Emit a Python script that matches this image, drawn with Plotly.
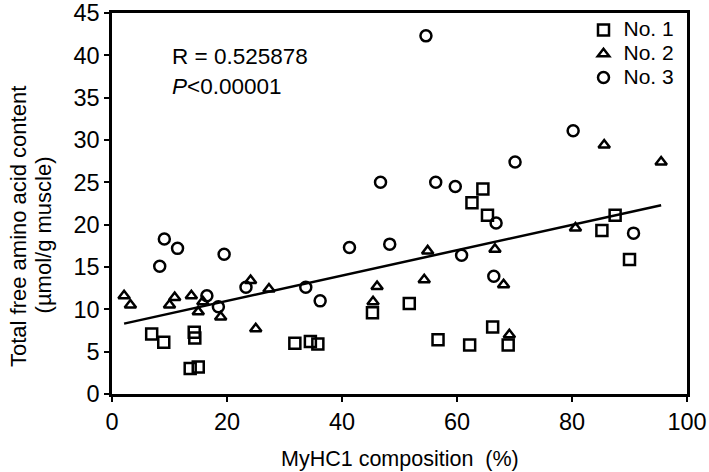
import numpy as np
import plotly.graph_objects as go

# MyHC1 composition (%) and total free amino acid content (umol/g muscle)
no1_x = [6.9, 9.0, 14.3, 14.4, 13.6, 15.0, 31.8, 34.5, 35.8, 45.3, 51.7,
         56.7, 62.2, 62.6, 64.5, 65.3, 66.2, 68.9, 85.2, 87.5, 90.0]
no1_y = [7.1, 6.1, 7.3, 6.6, 3.0, 3.2, 6.0, 6.2, 5.9, 9.6, 10.7,
         6.4, 5.8, 22.6, 24.2, 21.1, 7.9, 5.8, 19.3, 21.1, 15.9]

no2_x = [2.1, 3.2, 10.0, 10.9, 13.8, 15.8, 15.0, 18.9, 24.1, 25.0, 27.3,
         46.1, 45.4, 54.9, 54.3, 66.6, 68.1, 69.1, 80.6, 85.6, 95.5]
no2_y = [11.6, 10.5, 10.5, 11.4, 11.6, 10.9, 9.7, 9.1, 13.4, 7.7, 12.4,
         12.7, 10.9, 16.9, 13.5, 17.1, 12.9, 7.0, 19.6, 29.4, 27.4]

no3_x = [8.3, 9.1, 11.4, 16.5, 18.5, 19.5, 23.3, 33.7, 36.2, 41.3, 46.7,
         48.3, 54.6, 56.3, 59.7, 60.8, 66.4, 66.8, 70.1, 80.2, 90.7]
no3_y = [15.1, 18.3, 17.2, 11.6, 10.3, 16.5, 12.6, 12.6, 11.0, 17.3, 25.0,
         17.7, 42.3, 25.0, 24.5, 16.4, 13.9, 20.2, 27.4, 31.1, 19.0]

groups = ["No. 1", "No. 2", "No. 3"]
symbols = ["square-open", "triangle-up-open", "circle-open"]
sizes = [11, 10, 11]

all_x = np.array(no1_x + no2_x + no3_x)
all_y = np.array(no1_y + no2_y + no3_y)
slope, icpt = np.polyfit(all_x, all_y, 1)
fit_x = np.array([all_x.min(), all_x.max()])
fit_y = slope * fit_x + icpt

font = "Liberation Sans, Arial, Helvetica, sans-serif"

fig = go.Figure()
fig.add_trace(go.Scatter(x=fit_x, y=fit_y, mode="lines",
                         line=dict(color="black", width=2.5),
                         showlegend=False, hoverinfo="skip"))

for name, xs, ys, sym, sz in zip(groups, [no1_x, no2_x, no3_x],
                                 [no1_y, no2_y, no3_y], symbols, sizes):
    # legend row height follows the legend font size, text size set in the span
    label = "<span style='font-size:21px'>" + name + "</span>"
    fig.add_trace(go.Scatter(x=xs, y=ys, mode="markers", name=label,
                             marker=dict(symbol=sym, size=sz, color="black",
                                         line=dict(color="black", width=2.5))))

txt = dict(showarrow=False, xref="paper", yref="paper", yanchor="middle")
fig.add_annotation(x=0.101, y=0.885, text="R = 0.525878", xanchor="left",
                   font=dict(size=22.5, color="black"), **txt)
fig.add_annotation(x=0.101, y=0.806, text="<i>P</i><0.00001", xanchor="left",
                   font=dict(size=22.5, color="black"), **txt)
fig.add_annotation(x=-0.163, y=0.439, text="Total free amino acid content",
                   xanchor="center", textangle=-90,
                   font=dict(size=22, color="black"), **txt)
fig.add_annotation(x=-0.1195, y=0.417, text="(µmol/g muscle)",
                   xanchor="center", textangle=-90,
                   font=dict(size=22, color="black"), **txt)
fig.add_annotation(x=0.5, y=-0.1706, text="MyHC1 composition\u00a0 (%)",
                   xanchor="center", font=dict(size=21.5, color="black"), **txt)

fig.update_layout(
    width=709, height=472,
    margin=dict(l=112, r=22, t=13, b=78, autoexpand=False),
    paper_bgcolor="white", plot_bgcolor="white",
    font=dict(family=font, size=23.5, color="black"),
    legend=dict(x=0.82, y=1.0, xanchor="left", yanchor="top",
                bgcolor="rgba(0,0,0,0)", font=dict(size=16),
                tracegroupgap=0),
)
fig.update_xaxes(range=[0, 100], dtick=20, showgrid=False, zeroline=False,
                 showline=True, linecolor="black", linewidth=2.5, mirror=True,
                 ticks="outside", ticklen=5, tickwidth=2, tickcolor="black",
                 automargin=False)
fig.update_yaxes(range=[0, 45], dtick=5, showgrid=False, zeroline=False,
                 showline=True, linecolor="black", linewidth=2.5, mirror=True,
                 ticks="outside", ticklen=5, tickwidth=2, tickcolor="black",
                 automargin=False, ticklabeloverflow="allow")

# drop the default 8px page margin so the figure sits at the window corner
fig.write_html("out.html", config={"displayModeBar": False},
               post_script="document.body.style.margin='0';")
